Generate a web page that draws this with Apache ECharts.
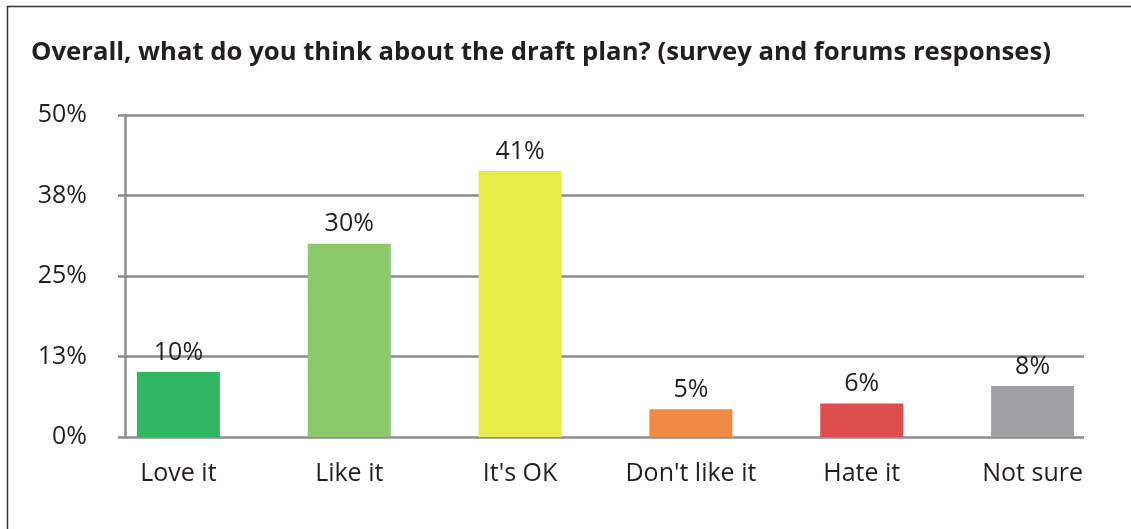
<!DOCTYPE html>
<html>
<head>
<meta charset="utf-8">
<script src="https://cdn.jsdelivr.net/npm/echarts@6/dist/echarts.min.js"></script>
<style>
html,body{margin:0;padding:0;background:#fff;}
#chart{width:1131px;height:529px;}
</style>
</head>
<body>
<div id="chart"></div>
<script>
const categories = ["Love it", "Like it", "It's OK", "Don't like it", "Hate it", "Not sure"];
const values = [10.1, 30.0, 41.3, 4.3, 5.2, 7.9];
const valueLabels = ["10%", "30%", "41%", "5%", "6%", "8%"];
const barColors = ["#31b664", "#8bc96a", "#e9e947", "#f08944", "#dd4d4b", "#a0a0a3"];
const yTickLabels = {"0": "0%", "12.5": "13%", "25": "25%", "37.5": "38%", "50": "50%"};

const chart = echarts.init(document.getElementById('chart'));
const fontFam = "'Open Sans', sans-serif";
const gridTop = 115, gridBottom = 529 - 437;
chart.setOption({
  animation: false,
  title: {
    text: 'Overall, what do you think about the draft plan? (survey and forums responses)',
    left: 31, top: 40, padding: 0,
    textStyle: { fontFamily: fontFam, fontWeight: 'bold', fontSize: 25.7, color: '#231f20' }
  },
  graphic: [
    { type: 'line', shape: { x1: 7, y1: 6.5, x2: 1131, y2: 6.5 }, style: { stroke: '#333', lineWidth: 1.5 } },
    { type: 'line', shape: { x1: 7.5, y1: 6, x2: 7.5, y2: 529 }, style: { stroke: '#333', lineWidth: 1.5 } }
  ],
  grid: [
    { left: 125, right: 1131 - 1084, top: gridTop, bottom: gridBottom },
    { left: 93, right: 1131 - 1118, top: gridTop, bottom: gridBottom }
  ],
  xAxis: [
    { type: 'category', gridIndex: 0, data: categories, show: false },
    {
      type: 'category', gridIndex: 1, data: categories,
      axisLine: { show: false }, axisTick: { show: false },
      axisLabel: { margin: 24, fontFamily: fontFam, fontSize: 25, color: '#231f20' }
    }
  ],
  yAxis: [
    {
      type: 'value', gridIndex: 0, min: 0, max: 50, interval: 12.5,
      axisLine: { show: true, lineStyle: { color: '#8d8d8f', width: 2.5 } },
      axisTick: { show: true, length: 7, lineStyle: { color: '#8d8d8f', width: 2.5 } },
      splitLine: { show: true, lineStyle: { color: '#8d8d8f', width: 2.5 } },
      axisLabel: {
        margin: 38, fontFamily: fontFam, fontSize: 25, color: '#231f20',
        formatter: v => yTickLabels[String(v)]
      }
    },
    { type: 'value', gridIndex: 1, min: 0, max: 50, interval: 12.5, show: false, splitLine: { show: false } }
  ],
  series: [{
    type: 'bar', xAxisIndex: 1, yAxisIndex: 1,
    barWidth: 83,
    data: values.map((v, i) => ({ value: v, itemStyle: { color: barColors[i] } })),
    label: {
      show: true, position: 'top', distance: 7,
      fontFamily: fontFam, fontSize: 25, color: '#231f20',
      formatter: p => valueLabels[p.dataIndex]
    },
    z: 3
  }]
});
</script>
</body>
</html>
